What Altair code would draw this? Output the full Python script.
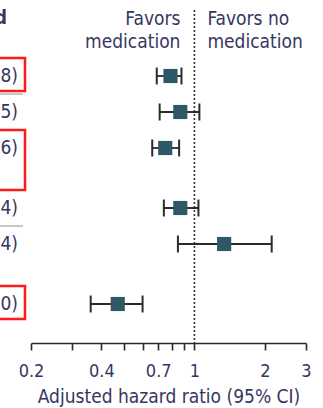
import altair as alt
import pandas as pd
import numpy as np

# Adjusted hazard ratios with 95% confidence limits, one per row
hazard_ratio = [0.79, 0.87, 0.75, 0.87, 1.34, 0.47]
ci_lower = [0.69, 0.71, 0.66, 0.74, 0.85, 0.36]
ci_upper = [0.88, 1.05, 0.86, 1.04, 2.14, 0.60]

# Log-scale axis ticks and the ones that carry a label
tick_values = [0.2, 0.3, 0.4, 0.5, 0.6, 0.7, 0.8, 0.9, 1, 2, 3]
tick_labels = ["0.2", "0.4", "0.7", "1", "2", "3"]

# Row layout on a 12 px grid: gap before each row, highlighted rows, rules
row_gaps = [0, 3, 3, 5, 3, 5]
highlighted = [(0, 1), (2, 2), (5, 1)]   # (row index, number of text lines)
separators_after = [0, 3]

FONT = "DejaVu Sans Condensed"
TEXT = "#36365f"
BOX = "#2e5866"
INK = "#2a2a2a"

W, H = 275, 343
GRID = 12.0
FIRST = 76.0

slots = np.cumsum(row_gaps).astype(float)
df = pd.DataFrame({
    "slot": slots,
    "hr": hazard_ratio,
    "lo": ci_lower,
    "hi": ci_upper,
})
df["label"] = [f"{h:.2f} ({l:.2f}-{u:.2f})" for h, l, u in zip(hazard_ratio, ci_lower, ci_upper)]

yscale = alt.Scale(domain=[-FIRST / GRID, (H - FIRST) / GRID], reverse=True, nice=False, zero=False)
xscale = alt.Scale(type="log", domain=[0.2, 3], nice=False)

base = alt.Chart(df)
Y = alt.Y("slot:Q", scale=yscale, axis=None)

x_axis = alt.Axis(
    values=tick_values,
    labelExpr=f"indexof({tick_labels}, format(datum.value, '~g')) >= 0 ? format(datum.value, '~g') : ''",
    grid=False,
    domainColor=INK,
    domainWidth=1.6,
    tickColor=INK,
    tickWidth=1.6,
    tickSize=7,
    labelFontSize=18,
    labelColor=TEXT,
    labelFont=FONT,
    labelPadding=12,
    title="Adjusted hazard ratio (95% CI)",
    titleFontSize=19,
    titleFontWeight="normal",
    titleColor=TEXT,
    titleFont=FONT,
    titlePadding=7,
    labelFlush=False,
)

whisker = base.mark_rule(color=INK, strokeWidth=1.8).encode(
    x=alt.X("lo:Q", scale=xscale, axis=x_axis),
    x2="hi:Q",
    y=Y,
)

caps = base.transform_fold(["lo", "hi"], as_=["end", "val"]).mark_tick(
    orient="vertical", size=17, thickness=2, color=INK, opacity=1
).encode(x=alt.X("val:Q", scale=xscale), y=Y)

squares = base.mark_square(size=200, color=BOX, opacity=1).encode(
    x=alt.X("hr:Q", scale=xscale), y=Y
)

null_line = alt.Chart(pd.DataFrame({"v": [1]})).mark_rule(
    color="#333333", strokeWidth=1.6, strokeDash=[2, 2]
).encode(x=alt.X("v:Q", scale=xscale), y=alt.value(10), y2=alt.value(H))

head = alt.Chart(pd.DataFrame({"v": [1]}))
favors_med = head.mark_text(
    text="Favors\nmedication", lineBreak="\n", lineHeight=23, align="right",
    baseline="alphabetic", dx=-14, font=FONT, fontSize=19, color=TEXT,
).encode(x=alt.X("v:Q", scale=xscale), y=alt.value(25))
favors_none = head.mark_text(
    text="Favors no\nmedication", lineBreak="\n", lineHeight=23, align="left",
    baseline="alphabetic", dx=13, font=FONT, fontSize=19, color=TEXT,
).encode(x=alt.X("v:Q", scale=xscale), y=alt.value(25))

col_head = head.mark_text(
    text="Adjusted", align="right", baseline="alphabetic", font=FONT,
    fontSize=19, color=TEXT, fontWeight="bold",
).encode(x=alt.value(-24), y=alt.value(24))

# Estimate column to the left of the plot (right-aligned)
estimates = base.mark_text(
    align="right", baseline="middle", font=FONT, fontSize=19, color=TEXT
).encode(x=alt.value(-13), y=Y, text="label:N")

box_rows = []
for idx, lines in highlighted:
    s = slots[idx]
    box_rows.append({"y0": s - 18 / GRID, "y1": s + (15 + (lines - 1) * 27) / GRID})
boxes = alt.Chart(pd.DataFrame(box_rows)).mark_rect(
    fillOpacity=0, stroke="#ff1a1a", strokeWidth=2.5
).encode(
    x=alt.value(-45), x2=alt.value(-6),
    y=alt.Y("y0:Q", scale=yscale, axis=None), y2="y1:Q",
)

sep = alt.Chart(pd.DataFrame({"y": [slots[i] + 18 / GRID for i in separators_after]})).mark_rule(
    color="#b5b5b5", strokeWidth=1.5
).encode(x=alt.value(-45), x2=alt.value(-8), y=alt.Y("y:Q", scale=yscale, axis=None))

chart = alt.layer(
    whisker, null_line, caps, squares, favors_med, favors_none, col_head,
    estimates, boxes, sep,
).properties(
    width=W, height=H,
    autosize=alt.AutoSizeParams(type="none"),
    padding={"left": 31, "top": 0, "right": 17, "bottom": 65},
    background="white",
).configure(font=FONT).configure_view(strokeWidth=0, stroke=None).configure_axis(grid=False)

chart.save("out.html", embed_options={"renderer": "svg", "actions": False})
